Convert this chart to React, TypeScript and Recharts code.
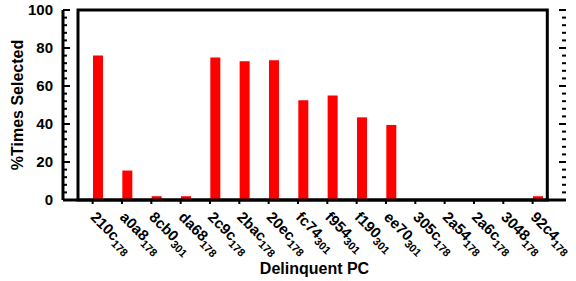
import React from 'react';
import { BarChart, Bar, XAxis, YAxis, ReferenceArea } from 'recharts';

// delinquent PCs (hex part + subscript part)
const pcNames = ['210c', 'a0a8', '8cb0', 'da68', '2c9c', '2bac', '20ec', 'fc74', 'f954', 'f190', 'ee70', '305c', '2a54', '2a6c', '3048', '92c4'];
const pcSubs = ['178', '178', '301', '178', '178', '178', '178', '301', '301', '301', '301', '178', '178', '178', '178', '178'];
const timesSelected = [76, 15.5, 2, 2, 75, 73, 73.5, 52.5, 55, 43.5, 39.5, 0, 0, 0, 0, 2];

const majorTicks = [0, 20, 40, 60, 80, 100];
const allTicks = [0, 4, 8, 12, 16, 20, 24, 28, 32, 36, 40, 44, 48, 52, 56, 60, 64, 68, 72, 76, 80, 84, 88, 92, 96, 100];

const data = pcNames.map((name, i) => ({ name, spacer: 0, value: timesSelected[i] }));

const CHART_W = 576;
const CHART_H = 281;
const MARGIN = { top: 10, right: 10, left: 0, bottom: 0 };
const PLOT_RIGHT = CHART_W - MARGIN.right;

const PcTick = (props: any) => {
  const { x, y, payload } = props;
  const i = pcNames.indexOf(payload.value);
  return (
    <g transform={`translate(${x},${y})`}>
      <rect x={-1} y={0} width={2} height={4} fill="#000" />
      <text transform="translate(-3,18) rotate(45)" fontSize={15} fill="#000">
        {pcNames[i]}
        <tspan fontSize={11} dy={4}>{pcSubs[i]}</tspan>
      </text>
    </g>
  );
};

// inward ticks on both the left and the right frame edge
const yTick = (props: any) => {
  const { x, y, payload } = props;
  const major = majorTicks.includes(payload.value);
  const len = major ? 7 : 4;
  return (
    <g>
      <rect x={x} y={y - 1} width={len} height={2} fill="#000" />
      <rect x={PLOT_RIGHT - len} y={y - 1} width={len} height={2} fill="#000" />
      {major && (
        <text x={x - 10} y={y} dy="0.36em" textAnchor="end" fontSize={15} fill="#000">
          {payload.value}
        </text>
      )}
    </g>
  );
};

export default function App() {
  return (
    <div style={{ position: 'absolute', left: 0, top: 0, fontFamily: '"Liberation Sans", Arial, sans-serif', fontWeight: 'bold' }}>
      <BarChart width={CHART_W} height={CHART_H} data={data} margin={MARGIN} barGap={0}>
        <XAxis
          dataKey="name"
          height={81}
          interval={0}
          padding={{ left: 15, right: 18.7 }}
          axisLine={{ stroke: '#000', strokeWidth: 3 }}
          tickLine={false}
          tickSize={0}
          tickMargin={0}
          tick={<PcTick />}
          label={{ value: 'Delinquent PC', position: 'insideBottom', offset: 7, fontSize: 16, fill: '#000' }}
        />
        <YAxis
          width={63}
          domain={[0, 100]}
          ticks={allTicks}
          interval={0}
          axisLine={{ stroke: '#000', strokeWidth: 3 }}
          tickLine={false}
          tickSize={0}
          tickMargin={0}
          tick={yTick}
          label={{ value: '%Times Selected', angle: -90, position: 'insideLeft', offset: 17, fontSize: 16, fill: '#000', style: { textAnchor: 'middle' } }}
        />
        <ReferenceArea y1={0} y2={100} fill="none" fillOpacity={0} stroke="#000" strokeWidth={3} />
        <Bar dataKey="spacer" barSize={10} fill="none" isAnimationActive={false} />
        <Bar dataKey="value" barSize={10} fill="#ff0000" isAnimationActive={false} />
      </BarChart>
    </div>
  );
}
